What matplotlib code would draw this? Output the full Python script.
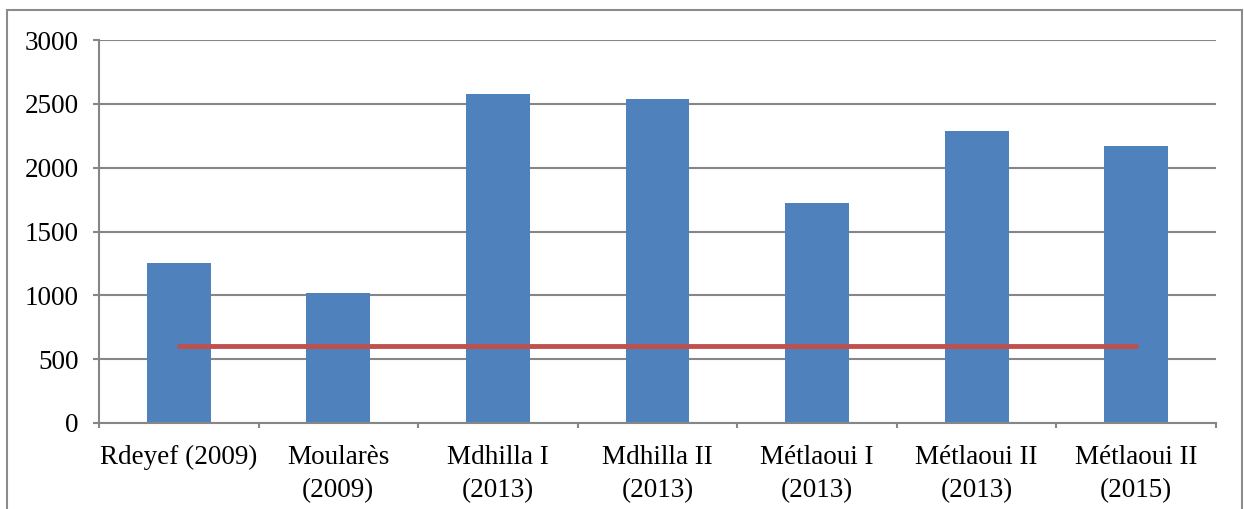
import matplotlib
matplotlib.use('Agg')
import matplotlib.pyplot as plt
from matplotlib.patches import Rectangle
import numpy as np

# données
sites = ['Rdeyef (2009)', 'Moularès\n(2009)', 'Mdhilla I\n(2013)', 'Mdhilla II\n(2013)',
         'Métlaoui I\n(2013)', 'Métlaoui II\n(2013)', 'Métlaoui II\n(2015)']
valeurs = [1250, 1015, 2580, 2535, 1720, 2285, 2170]
seuil = [600] * len(sites)

plt.rcParams['font.family'] = ['Liberation Serif', 'DejaVu Serif']

W, H = 1244, 509
fig = plt.figure(figsize=(W / 100, H / 100), dpi=100)
ax = fig.add_axes([99 / W, 1 - 423 / H, (1216 - 99) / W, (423 - 40) / H])

# cadre autour du graphique
fig.patches.append(Rectangle((7 / W, -0.05), (1242 - 7) / W, 1.05 - 10 / H,
                             transform=fig.transFigure, fill=False,
                             edgecolor='#8c8c8c', linewidth=1.5))

x = np.arange(len(sites))
ax.bar(x, valeurs, width=0.4, color='#4F81BD', zorder=2)
ax.plot(x, seuil, color='#C0504D', linewidth=3.5, solid_capstyle='round', zorder=3)

ax.set_xlim(-0.5, len(sites) - 0.5)
ax.set_ylim(0, 3000)
ax.set_yticks(np.arange(0, 3001, 500))
ax.yaxis.grid(True, color='#868686', linewidth=1.5, zorder=0)
ax.set_axisbelow(True)

ax.set_xticks(x)
ax.set_xticklabels(sites, fontsize=19.5, linespacing=1.4)
ax.tick_params(axis='x', length=0, pad=16)
ax.set_xticks(np.arange(-0.5, len(sites)), minor=True)
ax.tick_params(axis='x', which='minor', length=3.6, width=1.5, color='#868686')
ax.tick_params(axis='y', length=4.5, width=1.5, color='#868686', labelsize=19.5, pad=10)

for s in ['top', 'right']:
    ax.spines[s].set_visible(False)
for s in ['left', 'bottom']:
    ax.spines[s].set_color('#868686')
    ax.spines[s].set_linewidth(1.5)

fig.savefig('out.png', dpi=100)
